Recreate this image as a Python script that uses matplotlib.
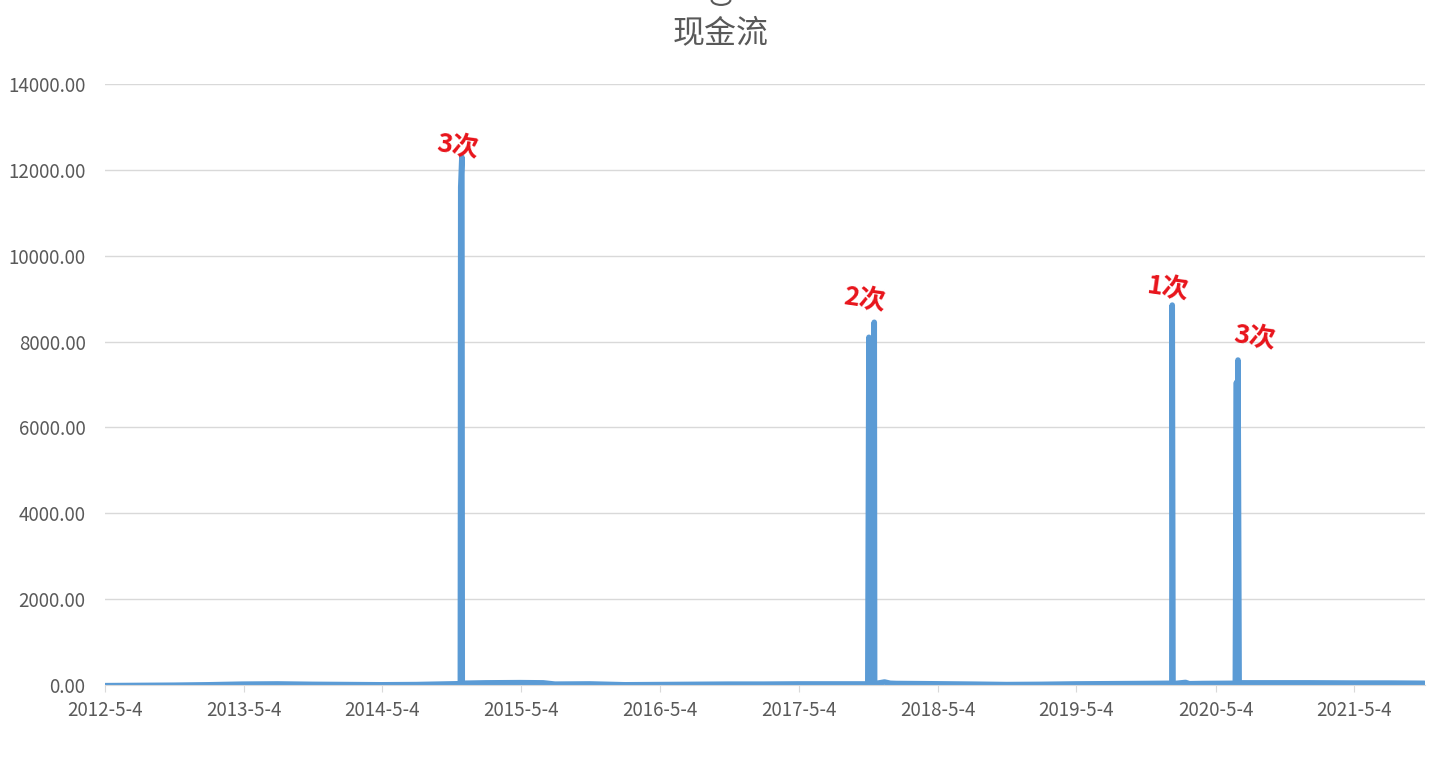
import pandas as pd
import matplotlib
matplotlib.use("Agg")
import matplotlib.pyplot as plt
from matplotlib.patches import Circle

plt.rcParams['font.family'] = ['Noto Sans CJK SC', 'DejaVu Sans']

# 现金流 data (date, value)
cf_dates = ['2012-05-04', '2012-08-01', '2012-11-01', '2013-02-01', '2013-05-01',
            '2013-08-01', '2013-11-01', '2014-02-01', '2014-05-01', '2014-08-01',
            '2014-11-25', '2014-11-26', '2014-11-29', '2014-11-30', '2015-02-01',
            '2015-05-01', '2015-07-01', '2015-08-01', '2015-11-01', '2016-02-01',
            '2016-05-01', '2016-08-01', '2016-11-01', '2017-02-01', '2017-05-01',
            '2017-08-01', '2017-11-01', '2017-11-04', '2017-11-05', '2017-11-15',
            '2017-11-18', '2017-11-19', '2017-12-15', '2017-12-30', '2018-01-15',
            '2018-04-01', '2018-08-01', '2018-11-01', '2019-02-01', '2019-05-01',
            '2019-08-01', '2019-11-01', '2020-01-10', '2020-01-11', '2020-01-13',
            '2020-02-15', '2020-02-25', '2020-04-01', '2020-06-25', '2020-06-28',
            '2020-06-29', '2020-07-01', '2020-07-02', '2020-07-05', '2020-09-01',
            '2021-01-01', '2021-05-01', '2021-08-01', '2021-11-04']
cf_values = [-15, -10, -5, 5, 20,
             25, 15, 10, 5, 10,
             30, 11600, 12300, 40, 50,
             55, 50, 20, 25, 5,
             10, 15, 20, 20, 25,
             25, 25, 8100, 20, 25,
             8450, 30, 70, 40, 35,
             30, 20, 10, 15, 25,
             30, 35, 40, 8850, 30,
             60, 30, 35, 40, 7050,
             40, 40, 7570, 50, 50,
             50, 45, 45, 40]

tick_dates = ['2012-05-04', '2013-05-04', '2014-05-04', '2015-05-04', '2016-05-04',
              '2017-05-04', '2018-05-04', '2019-05-04', '2020-05-04', '2021-05-04']
tick_labels = ['2012-5-4', '2013-5-4', '2014-5-4', '2015-5-4', '2016-5-4',
               '2017-5-4', '2018-5-4', '2019-5-4', '2020-5-4', '2021-5-4']

# hand-written marks: (label, date, value, dx, dy)
marks = [('3次', '2014-11-29', 12300, -4, 10),
         ('2次', '2017-11-18', 8450, -10, 22),
         ('1次', '2020-01-11', 8850, -4, 16),
         ('3次', '2020-07-02', 7570, 16, 22)]

x = pd.to_datetime(cf_dates)
grey = '#595959'

fig = plt.figure(figsize=(14.42, 7.57), dpi=100)
ax = fig.add_axes([0.0728, 0.0951, 0.9154, 0.7939])

ax.plot(x, cf_values, color='#5B9BD5', lw=4.0, solid_joinstyle='round',
        solid_capstyle='round')

ax.set_xlim(pd.Timestamp('2012-05-04'), pd.Timestamp('2021-11-06'))
ax.set_ylim(0, 14000)
ax.set_yticks(range(0, 14001, 2000))
ax.yaxis.set_major_formatter(plt.FuncFormatter(lambda v, p: '%.2f' % v))
ax.set_xticks(pd.to_datetime(tick_dates))
ax.set_xticklabels(tick_labels)

ax.grid(axis='y', color='#D9D9D9', lw=1)
ax.set_axisbelow(True)
for s in ['top', 'right', 'left']:
    ax.spines[s].set_visible(False)
ax.spines['bottom'].set_color('#D9D9D9')
ax.tick_params(axis='y', length=0, labelsize=13.5, labelcolor=grey, pad=14)
ax.tick_params(axis='x', length=5, color='#D9D9D9', labelsize=13.5,
               labelcolor=grey, pad=6)

fig.text(0.5, 0.956, '现金流', ha='center', va='center', fontsize=23, color=grey)
fig.patches.append(Circle((0.5, 1.0), 0.0065, transform=fig.transFigure,
                          fill=False, ec=grey, lw=1.5, figure=fig))

for lab, d, v, dx, dy in marks:
    ax.annotate(lab, xy=(pd.Timestamp(d), v), xytext=(dx, dy),
                textcoords='offset pixels', ha='center', va='center',
                fontsize=19, fontweight='bold', color='#E8141B', rotation=-8)

fig.savefig('out.png', dpi=100)
